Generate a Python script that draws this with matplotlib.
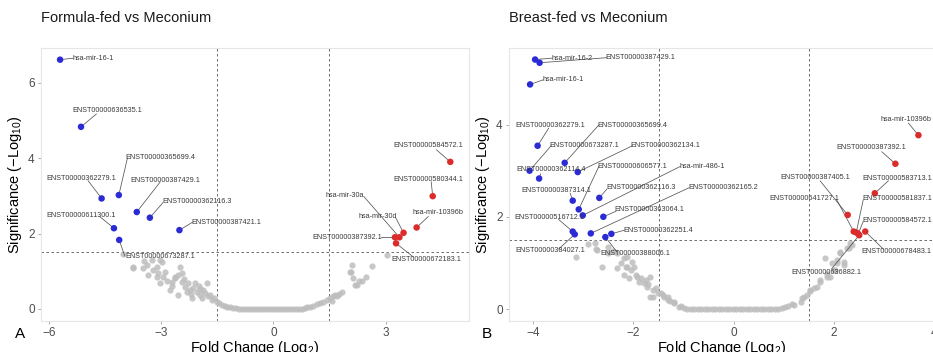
import matplotlib
matplotlib.use("Agg")
import matplotlib.pyplot as plt

plt.rcParams["font.family"] = ["Liberation Sans", "DejaVu Sans"]
plt.rcParams["mathtext.fontset"] = "custom"
plt.rcParams["mathtext.rm"] = "Liberation Sans"
plt.rcParams["mathtext.it"] = "Liberation Sans:italic"

FC_CUT = 1.5
SIG_CUT = 1.5

# ---------------- Formula-fed vs Meconium ----------------
a_gray_x = [-4.01, -3.76, -3.74, -3.48, -3.45, -3.39, -3.34, -3.25, -3.21, -3.12,
            -3.10, -3.07, -3.03, -3.03, -2.97, -2.94, -2.90, -2.85, -2.76, -2.72,
            -2.70, -2.63, -2.63, -2.54, -2.54, -2.50, -2.45, -2.45, -2.40, -2.36,
            -2.30, -2.27, -2.23, -2.20, -2.18, -2.15, -2.09, -2.05, -2.00, -1.96,
            -1.96, -1.90, -1.87, -1.82, -1.78, -1.74, -1.69, -1.65, -1.58, -1.51,
            -1.45, -1.38, -1.30, -1.25, -1.15, -1.07, -1.00, -0.92, -0.84, -0.76,
            -0.68, -0.60, -0.52, -0.44, -0.36, -0.28, -0.20, -0.12, -0.04, 0.04,
            0.12, 0.20, 0.28, 0.36, 0.44, 0.52, 0.60, 0.68, 0.76, 0.84,
            0.91, 0.98, 1.07, 1.16, 1.25, 1.34, 1.43, 1.52, 1.56, 1.60,
            1.65, 1.70, 1.76, 1.83, 2.05, 2.07, 2.10, 2.14, 2.18, 2.23,
            2.30, 2.36, 2.48, 2.63, 3.03]
a_gray_y = [1.47, 1.08, 1.10, 1.08, 1.28, 1.17, 0.90, 1.30, 1.03, 1.12,
            0.85, 0.95, 1.30, 0.68, 1.24, 0.86, 0.99, 0.75, 0.50, 0.72,
            0.60, 0.81, 0.86, 0.90, 0.37, 1.12, 0.72, 0.95, 0.80, 0.59,
            0.45, 0.68, 0.50, 0.40, 0.28, 0.55, 0.68, 0.46, 0.60, 0.37,
            0.52, 0.30, 0.50, 0.42, 0.68, 0.33, 0.37, 0.24, 0.28, 0.19,
            0.16, 0.11, 0.09, 0.06, 0.04, 0.03, 0.02, 0.01, 0.01, 0.00,
            0.00, 0.00, 0.00, 0.00, 0.00, 0.00, 0.00, 0.00, 0.00, 0.00,
            0.00, 0.00, 0.00, 0.00, 0.00, 0.00, 0.00, 0.01, 0.01, 0.02,
            0.04, 0.06, 0.08, 0.12, 0.15, 0.19, 0.23, 0.28, 0.21, 0.33,
            0.37, 0.33, 0.40, 0.44, 0.99, 0.97, 1.17, 0.81, 0.64, 0.64,
            0.74, 0.74, 0.86, 1.15, 1.43]

a_names = ["hsa-mir-16-1", "ENST00000636535.1", "ENST00000365699.4", "ENST00000362279.1",
           "ENST00000387429.1", "ENST00000362116.3", "ENST00000387421.1", "ENST00000611300.1",
           "ENST00000673287.1", "ENST00000584572.1", "ENST00000580344.1", "hsa-mir-10396b",
           "hsa-mir-30a", "hsa-mir-30d", "ENST00000387392.1", "ENST00000672183.1"]
a_fc = [-5.70, -5.14, -4.13, -4.59, -3.65, -3.30, -2.51, -4.26, -4.12,
        4.73, 4.26, 3.83, 3.37, 3.48, 3.25, 3.28]
a_sig = [6.61, 4.83, 3.02, 2.93, 2.57, 2.42, 2.09, 2.14, 1.83,
         3.90, 2.99, 2.16, 1.90, 2.02, 1.90, 1.74]
# label placement: text centre and where the leader line meets the label
a_text_xy = [(-4.81, 6.65), (-4.45, 5.27), (-3.01, 4.01), (-5.13, 3.45), (-2.89, 3.41),
             (-2.04, 2.86), (-1.27, 2.30), (-5.13, 2.49), (-3.01, 1.38), (4.15, 4.34),
             (4.15, 3.42), (4.39, 2.55), (1.90, 3.02), (2.78, 2.45), (1.98, 1.90), (4.09, 1.30)]
a_line_end = [(-5.35, 6.65), (-4.73, 5.17), (-3.90, 4.00), (-4.95, 3.40), (-3.03, 3.36),
              (-2.95, 2.82), (-2.16, 2.30), (-4.64, 2.45), (-3.97, 1.40), (4.36, 4.22),
              (4.22, 3.37), (4.14, 2.45), (2.42, 2.98), (3.27, 2.42), (2.87, 1.90), (3.74, 1.38)]

# ---------------- Breast-fed vs Meconium ----------------
b_gray_x = [-3.14, -2.90, -2.77, -2.75, -2.72, -2.62, -2.50, -2.50, -2.40, -2.32,
            -2.32, -2.25, -2.19, -2.19, -2.15, -2.12, -2.12, -2.09, -2.05, -2.02,
            -1.99, -1.95, -1.92, -1.88, -1.85, -1.79, -1.75, -1.72, -1.70, -1.66,
            -1.66, -1.62, -1.62, -1.55, -1.52, -1.46, -1.42, -1.40, -1.32, -1.32,
            -1.28, -1.19, -1.19, -1.09, -1.06, -1.00, -0.93, -0.86, -0.79, -0.72,
            -0.65, -0.58, -0.51, -0.44, -0.37, -0.30, -0.23, -0.16, -0.09, -0.02,
            0.05, 0.12, 0.19, 0.26, 0.33, 0.40, 0.47, 0.54, 0.61, 0.68,
            0.75, 0.82, 0.89, 0.96, 1.02, 1.08, 1.16, 1.19, 1.33, 1.36,
            1.39, 1.45, 1.52, 1.52, 1.60, 1.66, 1.72, 1.72, 1.82, 1.86,
            1.86, 1.92, 1.96, 1.99, 2.02, 2.06, 2.06, 2.12, 2.12, 2.19,
            2.19, 2.25, 2.29, 2.32, 2.35]
b_gray_y = [1.13, 1.40, 1.43, 1.30, 1.27, 0.92, 1.34, 1.21, 1.25, 1.21,
            0.88, 1.00, 1.10, 0.74, 0.92, 1.13, 0.92, 0.67, 0.85, 1.03,
            0.92, 0.74, 0.70, 0.58, 0.67, 0.56, 0.62, 0.48, 0.55, 0.70,
            0.27, 0.41, 0.25, 0.45, 0.34, 0.34, 0.30, 0.25, 0.20, 0.27,
            0.18, 0.12, 0.16, 0.05, 0.07, 0.03, 0.01, 0.01, 0.00, 0.00,
            0.00, 0.00, 0.00, 0.00, 0.00, 0.00, 0.00, 0.00, 0.00, 0.00,
            0.00, 0.00, 0.00, 0.00, 0.00, 0.00, 0.00, 0.00, 0.00, 0.00,
            0.00, 0.00, 0.01, 0.02, 0.04, 0.06, 0.11, 0.09, 0.16, 0.23,
            0.27, 0.30, 0.38, 0.41, 0.45, 0.48, 0.59, 0.63, 1.10, 0.77,
            0.70, 0.70, 0.99, 0.85, 0.85, 0.99, 1.06, 1.21, 1.24, 0.95,
            1.03, 1.32, 1.32, 1.43, 1.39]

b_names = ["hsa-mir-16-2", "ENST00000387429.1", "hsa-mir-16-1", "ENST00000362279.1",
           "ENST00000365699.4", "ENST00000673287.1", "ENST00000362134.1", "ENST00000362114.4",
           "ENST00000606577.1", "hsa-mir-486-1", "ENST00000387314.1", "ENST00000362116.3",
           "ENST00000362165.2", "ENST00000363064.1", "ENST00000516712.1", "ENST00000384027.1",
           "ENST00000362251.4", "ENST00000388006.1",
           "hsa-mir-10396b", "ENST00000387392.1", "ENST00000583713.1", "ENST00000387405.1",
           "ENST00000641727.1", "ENST00000581837.1", "ENST00000584572.1", "ENST00000678483.1",
           "ENST00000636882.1"]
b_fc = [-3.96, -3.87, -4.06, -3.91, -3.37, -4.07, -3.11, -3.88, -3.09, -3.01,
        -3.21, -2.68, -2.85, -2.60, -3.21, -3.17, -2.44, -2.56,
        3.68, 3.22, 2.81, 2.27, 2.39, 2.44, 2.48, 2.62, 2.50]
b_sig = [5.41, 5.34, 4.87, 3.54, 3.17, 3.00, 2.97, 2.83, 2.16, 2.03,
         2.35, 2.41, 1.64, 2.00, 1.68, 1.62, 1.63, 1.56,
         3.77, 3.15, 2.51, 2.04, 1.68, 1.66, 1.63, 1.68, 1.60]
b_text_xy = [(-3.22, 5.44), (-1.86, 5.45), (-3.40, 4.97), (-3.66, 3.99), (-2.03, 3.99),
             (-2.99, 3.54), (-1.36, 3.54), (-3.64, 3.02), (-2.03, 3.09), (-0.63, 3.09),
             (-3.54, 2.56), (-1.85, 2.63), (-0.22, 2.63), (-1.68, 2.16), (-3.68, 1.98),
             (-3.66, 1.26), (-1.51, 1.71), (-1.97, 1.20),
             (3.43, 4.12), (2.74, 3.50), (3.25, 2.84), (1.62, 2.86), (1.40, 2.39),
             (3.25, 2.39), (3.25, 1.93), (3.25, 1.24), (1.85, 0.79)]
b_line_end = [(-3.62, 5.44), (-2.53, 5.45), (-3.80, 4.97), (-3.69, 3.92), (-2.69, 3.99),
              (-3.64, 3.54), (-2.02, 3.54), (-3.85, 2.93), (-2.69, 3.09), (-1.07, 3.09),
              (-3.26, 2.51), (-2.53, 2.60), (-0.89, 2.63), (-2.35, 2.12), (-3.49, 1.94),
              (-3.49, 1.30), (-2.18, 1.71), (-2.33, 1.24),
              (3.48, 4.03), (2.95, 3.41), (3.08, 2.78), (1.72, 2.78), (2.05, 2.37),
              (2.58, 2.37), (2.58, 1.90), (2.98, 1.30), (1.95, 0.87)]

GRAY = "#bdbdbd"
BLUE = "#2b2bd6"
RED = "#dc2b2b"
W, H = 933, 352


def panel(rect, title, letter, letter_x, gx, gy, names, fc, sig, text_xy, line_end,
          xlim, ylim, xticks, yticks):
    ax = fig.add_axes(rect)
    ax.axvline(-FC_CUT, color="#555555", ls=(0, (3, 3)), lw=0.6, zorder=1)
    ax.axvline(FC_CUT, color="#555555", ls=(0, (3, 3)), lw=0.6, zorder=1)
    ax.axhline(SIG_CUT, color="#555555", ls=(0, (3, 3)), lw=0.6, zorder=1)
    ax.scatter(gx, gy, s=20, color=GRAY, alpha=0.85, linewidths=0, zorder=2)
    cols = [RED if v > 0 else BLUE for v in fc]
    ax.scatter(fc, sig, s=22, color=cols, linewidths=0, zorder=4)
    for name, px, py, (tx, ty), (lx, ly) in zip(names, fc, sig, text_xy, line_end):
        ax.plot([px, lx], [py, ly], color="#555555", lw=0.55, zorder=3)
        ax.text(tx, ty, name, fontsize=5.2, color="#3a3a3a", ha="center", va="center",
                zorder=5)
    ax.set_xlim(*xlim)
    ax.set_ylim(*ylim)
    ax.set_xticks(xticks)
    ax.set_yticks(yticks)
    ax.tick_params(length=2.5, width=0.5, color="#888888", labelcolor="#4d4d4d",
                   labelsize=8.5, pad=2)
    for sp in ax.spines.values():
        sp.set_color("#e6e6e6")
        sp.set_linewidth(0.8)
    ax.set_xlabel("Fold Change (Log$_2$)", fontsize=10.5, labelpad=-0.5)
    ax.set_ylabel("Significance (\u2212Log$_{10}$)", fontsize=10.5, labelpad=3)
    fig.text(rect[0], 1 - 18 / H, title, fontsize=10.5, color="#1a1a1a",
             ha="left", va="center")
    fig.text(letter_x / W, 1 - 334 / H, letter, fontsize=11, ha="center", va="center")
    return ax


fig = plt.figure(figsize=(W / 100, H / 100), dpi=100)
fig.patch.set_facecolor("white")

panel([41 / W, 1 - 321 / H, (469 - 41) / W, 273 / H], "Formula-fed vs Meconium", "A", 20,
      a_gray_x, a_gray_y, a_names, a_fc, a_sig, a_text_xy, a_line_end,
      (-6.21, 5.23), (-0.32, 6.92), [-6, -3, 0, 3], [0, 2, 4, 6])

panel([509 / W, 1 - 321 / H, (935 - 509) / W, 273 / H], "Breast-fed vs Meconium", "B", 487,
      b_gray_x, b_gray_y, b_names, b_fc, b_sig, b_text_xy, b_line_end,
      (-4.48, 4.01), (-0.26, 5.66), [-4, -2, 0, 2, 4], [0, 2, 4])

fig.savefig("out.png", dpi=100)
